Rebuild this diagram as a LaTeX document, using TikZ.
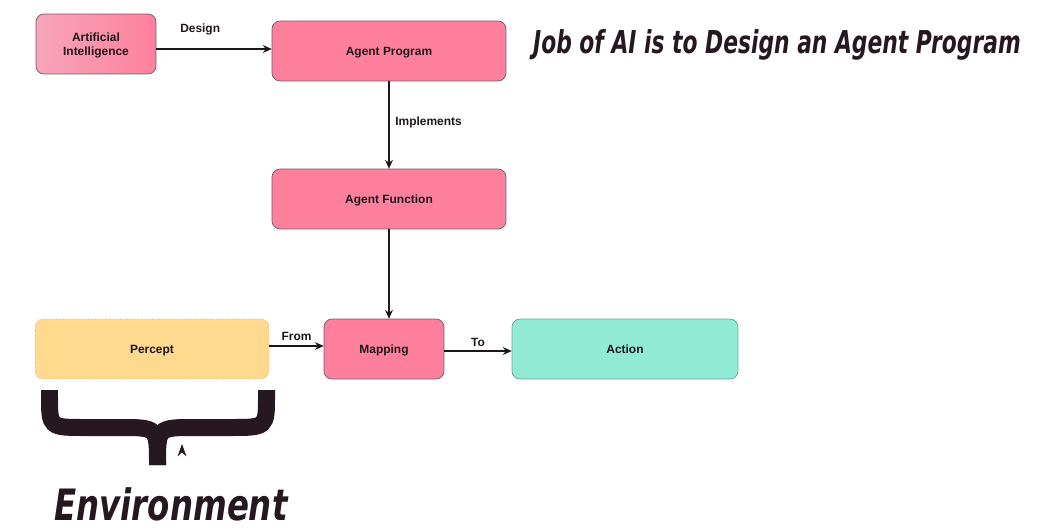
\documentclass[tikz,border=0pt]{standalone}
\usepackage{fontspec}
\setmainfont{Liberation Sans}
\newfontfamily\handfont{DejaVu Sans Condensed}
\usetikzlibrary{arrows.meta}
\definecolor{boxpink}{RGB}{255,128,156}
\definecolor{lightpink}{RGB}{247,165,188}
\definecolor{perceptyellow}{RGB}{255,217,142}
\definecolor{actiongreen}{RGB}{145,234,211}
\definecolor{boxline}{RGB}{110,90,100}
\definecolor{textdark}{RGB}{30,22,28}
\definecolor{bracedark}{RGB}{38,24,32}

\begin{document}
\begin{tikzpicture}[x=0.02cm,y=-0.02cm,
  box/.style={draw=boxline, rounded corners=0.16cm, minimum height=1.2cm, inner sep=2pt, text depth=0pt,
    font=\fontsize{6.8}{8}\selectfont\bfseries, text=textdark, align=center},
  arr/.style={-{Stealth[length=5pt,width=4.5pt]}, draw=textdark, line width=0.6pt},
  lbl/.style={font=\fontsize{6.8}{8}\selectfont\bfseries, text=textdark},
  hand/.style={font=\handfont\bfseries\itshape, text=bracedark}]
\useasboundingbox (0,0) rectangle (1040,530);
\node[box, minimum width=2.4cm, left color=lightpink, right color=boxpink] (ai) at (96,44) {Artificial\\Intelligence};
\node[box, minimum width=4.68cm, fill=boxpink] (prog) at (389,51) {Agent Program};
\node[box, minimum width=4.68cm, fill=boxpink] (func) at (389,199) {Agent Function};
\node[box, minimum width=2.4cm, fill=boxpink] (map) at (384,349) {Mapping};
\node[box, minimum width=4.68cm, fill=perceptyellow, draw=perceptyellow!80!black, densely dotted] (per) at (152,349) {Percept};
\node[box, minimum width=4.52cm, fill=actiongreen, draw=actiongreen!70!black] (act) at (625,349) {Action};
\draw[arr] ([yshift=-0.1cm]ai.east) -- ([yshift=-0.1cm]ai.east -| prog.west) node[lbl, pos=.38, above=4.5pt] {Design};
\draw[arr] (prog) -- (func) node[lbl, pos=.47, right=0pt] {Implements};
\draw[arr] (func) -- (map.north -| func.south);
\draw[arr] ([yshift=0.06cm]per.east) -- ([yshift=0.06cm]per.east -| map.west) node[lbl, midway, above=-0.5pt] {From};
\draw[arr] ([yshift=-0.04cm]map.east) -- ([yshift=-0.04cm]map.east -| act.west) node[lbl, midway, above=-1pt] {To};
\draw[line width=0.34cm, draw=bracedark] (49.5,390) -- (49.5,396) .. controls (49.5,427.5) .. (85,427.5) -- (120,427.5) .. controls (157.5,427.5) .. (157.5,465);
\draw[line width=0.34cm, draw=bracedark] (266.5,390) -- (266.5,396) .. controls (266.5,427.5) .. (230,427.5) -- (195,427.5) .. controls (157.5,427.5) .. (157.5,465);
\coordinate (envtip) at (182,444);
\draw[-{Stealth[length=7pt,width=5pt]}, draw=bracedark, line width=0.4pt] (182,452) -- (envtip);
\node[hand] (env) at (171,504) {\fontsize{20.5}{24}\selectfont\scalebox{1}[1.2]{Environment}};
\node[hand] (title) at (777,45) {\fontsize{13.8}{16}\selectfont\scalebox{1}[1.3]{Job of AI is to Design an Agent Program}};
\end{tikzpicture}
\end{document}
